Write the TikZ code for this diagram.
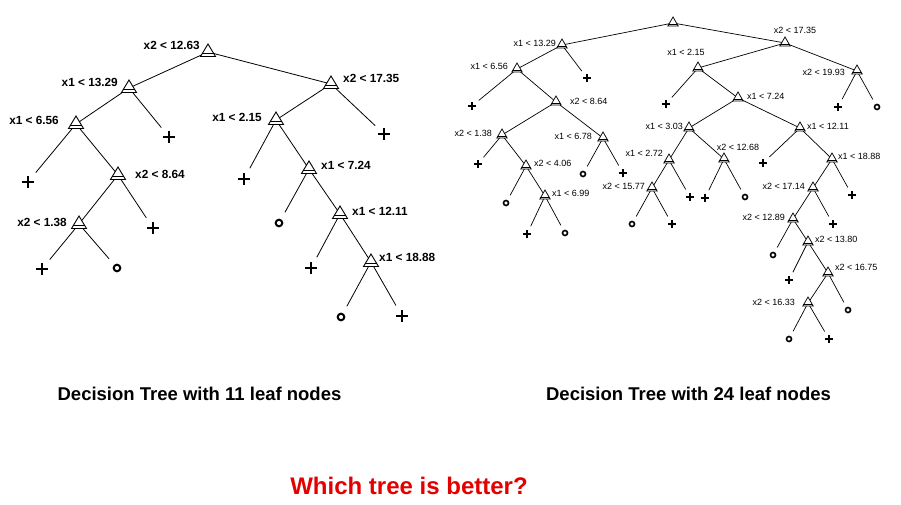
\documentclass[tikz,border=0pt]{standalone}
\usepackage{fontspec}
\setmainfont{Liberation Sans}
\begin{document}
\begin{tikzpicture}[x=1pt,y=-1pt,
  edgeL/.style={line width=0.8pt},
  edgeS/.style={line width=0.7pt},
  leafL/.style={circle,inner sep=0pt,minimum size=24pt},
  leafS/.style={circle,inner sep=0pt,minimum size=17pt},
  plusL/.style={leafL,path picture={\draw[line width=2.5pt]
     ([xshift=-5.8pt]path picture bounding box.center) -- ([xshift=5.8pt]path picture bounding box.center)
     ([yshift=-5.8pt]path picture bounding box.center) -- ([yshift=5.8pt]path picture bounding box.center);}},
  circL/.style={leafL,path picture={\draw[line width=2pt] (path picture bounding box.center) circle[radius=3.3pt];}},
  plusS/.style={leafS,path picture={\draw[line width=1.9pt]
     ([xshift=-4.1pt]path picture bounding box.center) -- ([xshift=4.1pt]path picture bounding box.center)
     ([yshift=-4.1pt]path picture bounding box.center) -- ([yshift=4.1pt]path picture bounding box.center);}},
  circS/.style={leafS,path picture={\draw[line width=1.6pt] (path picture bounding box.center) circle[radius=2.5pt];}},
  lblL/.style={font=\bfseries\fontsize{11.8}{13}\selectfont,inner sep=0pt},
  lblS/.style={font=\fontsize{9}{10}\selectfont,inner sep=0pt},
  caption/.style={font=\bfseries\fontsize{18.5}{20}\selectfont,inner sep=0pt},
  question/.style={font=\bfseries\fontsize{24}{26}\selectfont,inner sep=0pt,text=red!90!black},
  triL/.pic={\draw[line width=0.9pt,fill=white] (-7.5,4.5) -- (0,-8) -- (7.5,4.5) -- cycle;
             \draw[line width=0.9pt] (-5.7,1.5) -- (5.7,1.5);},
  triS/.pic={\draw[line width=0.75pt,fill=white] (-5.2,3) -- (0,-6) -- (5.2,3) -- cycle;
             \draw[line width=0.75pt] (-4,1) -- (4,1);}
]
\fill[white] (0,0) rectangle (901,505);
\useasboundingbox (0,0) rectangle (901,505);

% ---------------- left tree ----------------
\coordinate (LA) at (208,52);
\coordinate (LB) at (129,88);
\coordinate (LC) at (331,84);
\coordinate (LD) at (76,124);
\coordinate (LE) at (118,175);
\coordinate (LF) at (79,224);
\coordinate (LG) at (276,120);
\coordinate (LH) at (309,169);
\coordinate (LI) at (340,214);
\coordinate (LJ) at (371,262);

\node[plusL] (l1) at (169,137) {};
\node[plusL] (l2) at (28,182) {};
\node[plusL] (l3) at (153,228) {};
\node[plusL] (l4) at (42,269) {};
\node[circL] (l5) at (117,268) {};
\node[plusL] (l6) at (384,134) {};
\node[plusL] (l7) at (244,179) {};
\node[circL] (l8) at (279,223) {};
\node[plusL] (l9) at (311,268) {};
\node[circL] (l10) at (341,317) {};
\node[plusL] (l11) at (402,316) {};

\draw[edgeL] (LA) -- (LB);
\draw[edgeL] (LA) -- (LC);
\draw[edgeL] (LB) -- (LD);
\draw[edgeL] (LB) -- (l1);
\draw[edgeL] (LD) -- (l2);
\draw[edgeL] (LD) -- (LE);
\draw[edgeL] (LE) -- (LF);
\draw[edgeL] (LE) -- (l3);
\draw[edgeL] (LF) -- (l4);
\draw[edgeL] (LF) -- (l5);
\draw[edgeL] (LC) -- (LG);
\draw[edgeL] (LC) -- (l6);
\draw[edgeL] (LG) -- (l7);
\draw[edgeL] (LG) -- (LH);
\draw[edgeL] (LH) -- (l8);
\draw[edgeL] (LH) -- (LI);
\draw[edgeL] (LI) -- (l9);
\draw[edgeL] (LI) -- (LJ);
\draw[edgeL] (LJ) -- (l10);
\draw[edgeL] (LJ) -- (l11);

\foreach \n in {LA,LB,LC,LD,LE,LF,LG,LH,LI,LJ} \pic at (\n) {triL};

\node[lblL,anchor=east] (tLA) at (200,45) {x2 < 12.63};
\node[lblL,anchor=east] (tLB) at (118,82) {x1 < 13.29};
\node[lblL,anchor=west] (tLC) at (343,78) {x2 < 17.35};
\node[lblL,anchor=east] (tLD) at (59,120) {x1 < 6.56};
\node[lblL,anchor=west] (tLE) at (135,174) {x2 < 8.64};
\node[lblL,anchor=east] (tLF) at (67,222) {x2 < 1.38};
\node[lblL,anchor=east] (tLG) at (262,117) {x1 < 2.15};
\node[lblL,anchor=west] (tLH) at (321,165) {x1 < 7.24};
\node[lblL,anchor=west] (tLI) at (352,211) {x1 < 12.11};
\node[lblL,anchor=west] (tLJ) at (379,257) {x1 < 18.88};

% ---------------- right tree ----------------
\coordinate (Ra) at (673,23);
\coordinate (Rb) at (562,45);
\coordinate (Rc) at (785,43);
\coordinate (Rd) at (517,69);
\coordinate (Re) at (556,102);
\coordinate (Rf) at (502,135);
\coordinate (Rg) at (603,138);
\coordinate (Rh) at (526,166);
\coordinate (Ri) at (545,196);
\coordinate (Rj) at (698,68);
\coordinate (Rk) at (857,71);
\coordinate (Rl) at (738,98);
\coordinate (Rm) at (689,128);
\coordinate (Rn) at (800,128);
\coordinate (Ro) at (669,160);
\coordinate (Rp) at (724,159);
\coordinate (Rq) at (652,188);
\coordinate (Rr) at (832,159);
\coordinate (Rs) at (813,188);
\coordinate (Rt) at (793,219);
\coordinate (Ru) at (808,242);
\coordinate (Rv) at (828,273);
\coordinate (Rw) at (808,303);

\node[plusS] (r1) at (587,78) {};
\node[plusS] (r2) at (472,106) {};
\node[plusS] (r3) at (478,164) {};
\node[circS] (r4) at (506,203) {};
\node[plusS] (r5) at (527,234) {};
\node[circS] (r6) at (565,233) {};
\node[circS] (r7) at (583,174) {};
\node[plusS] (r8) at (623,173) {};
\node[plusS] (r9) at (838,107) {};
\node[circS] (r10) at (877,107) {};
\node[plusS] (r11) at (666,104) {};
\node[plusS] (r12) at (690,197) {};
\node[circS] (r13) at (632,224) {};
\node[plusS] (r14) at (672,224) {};
\node[plusS] (r15) at (705,198) {};
\node[circS] (r16) at (745,197) {};
\node[plusS] (r17) at (763,163) {};
\node[plusS] (r18) at (852,195) {};
\node[plusS] (r19) at (833,224) {};
\node[circS] (r20) at (773,255) {};
\node[plusS] (r21) at (789,280) {};
\node[circS] (r22) at (848,310) {};
\node[circS] (r23) at (789,339) {};
\node[plusS] (r24) at (829,339) {};

\draw[edgeS] (Ra) -- (Rb);
\draw[edgeS] (Ra) -- (Rc);
\draw[edgeS] (Rb) -- (Rd);
\draw[edgeS] (Rb) -- (r1);
\draw[edgeS] (Rd) -- (r2);
\draw[edgeS] (Rd) -- (Re);
\draw[edgeS] (Re) -- (Rf);
\draw[edgeS] (Re) -- (Rg);
\draw[edgeS] (Rf) -- (r3);
\draw[edgeS] (Rf) -- (Rh);
\draw[edgeS] (Rh) -- (r4);
\draw[edgeS] (Rh) -- (Ri);
\draw[edgeS] (Ri) -- (r5);
\draw[edgeS] (Ri) -- (r6);
\draw[edgeS] (Rg) -- (r7);
\draw[edgeS] (Rg) -- (r8);
\draw[edgeS] (Rc) -- (Rj);
\draw[edgeS] (Rc) -- (Rk);
\draw[edgeS] (Rk) -- (r9);
\draw[edgeS] (Rk) -- (r10);
\draw[edgeS] (Rj) -- (r11);
\draw[edgeS] (Rj) -- (Rl);
\draw[edgeS] (Rl) -- (Rm);
\draw[edgeS] (Rl) -- (Rn);
\draw[edgeS] (Rm) -- (Ro);
\draw[edgeS] (Rm) -- (Rp);
\draw[edgeS] (Ro) -- (Rq);
\draw[edgeS] (Ro) -- (r12);
\draw[edgeS] (Rq) -- (r13);
\draw[edgeS] (Rq) -- (r14);
\draw[edgeS] (Rp) -- (r15);
\draw[edgeS] (Rp) -- (r16);
\draw[edgeS] (Rn) -- (r17);
\draw[edgeS] (Rn) -- (Rr);
\draw[edgeS] (Rr) -- (Rs);
\draw[edgeS] (Rr) -- (r18);
\draw[edgeS] (Rs) -- (Rt);
\draw[edgeS] (Rs) -- (r19);
\draw[edgeS] (Rt) -- (r20);
\draw[edgeS] (Rt) -- (Ru);
\draw[edgeS] (Ru) -- (r21);
\draw[edgeS] (Ru) -- (Rv);
\draw[edgeS] (Rv) -- (Rw);
\draw[edgeS] (Rv) -- (r22);
\draw[edgeS] (Rw) -- (r23);
\draw[edgeS] (Rw) -- (r24);

\foreach \n in {Ra,Rb,Rc,Rd,Re,Rf,Rg,Rh,Ri,Rj,Rk,Rl,Rm,Rn,Ro,Rp,Rq,Rr,Rs,Rt,Ru,Rv,Rw} \pic at (\n) {triS};

\node[lblS,anchor=east] (tRb) at (556,43) {x1 < 13.29};
\node[lblS] (tRc) at (795,30) {x2 < 17.35};
\node[lblS,anchor=east] (tRd) at (508,66) {x1 < 6.56};
\node[lblS,anchor=west] (tRe) at (570,101) {x2 < 8.64};
\node[lblS,anchor=east] (tRf) at (492,133) {x2 < 1.38};
\node[lblS,anchor=east] (tRg) at (592,136) {x1 < 6.78};
\node[lblS,anchor=west] (tRh) at (534,163) {x2 < 4.06};
\node[lblS,anchor=west] (tRi) at (552,193) {x1 < 6.99};
\node[lblS] (tRj) at (686,52) {x1 < 2.15};
\node[lblS,anchor=east] (tRk) at (845,72) {x2 < 19.93};
\node[lblS,anchor=west] (tRl) at (747,96) {x1 < 7.24};
\node[lblS,anchor=east] (tRm) at (683,126) {x1 < 3.03};
\node[lblS,anchor=west] (tRn) at (807,126) {x1 < 12.11};
\node[lblS,anchor=east] (tRo) at (663,153) {x1 < 2.72};
\node[lblS] (tRp) at (738,147) {x2 < 12.68};
\node[lblS,anchor=east] (tRq) at (645,186) {x2 < 15.77};
\node[lblS,anchor=west] (tRr) at (838,156) {x1 < 18.88};
\node[lblS,anchor=east] (tRs) at (805,186) {x2 < 17.14};
\node[lblS,anchor=east] (tRt) at (785,217) {x2 < 12.89};
\node[lblS,anchor=west] (tRu) at (815,239) {x2 < 13.80};
\node[lblS,anchor=west] (tRv) at (835,267) {x2 < 16.75};
\node[lblS,anchor=east] (tRw) at (795,302) {x2 < 16.33};

% ---------------- captions ----------------
\node[caption] (capL) at (199.5,394) {Decision Tree with 11 leaf nodes};
\node[caption] (capR) at (688.5,394) {Decision Tree with 24 leaf nodes};
\node[question] (q) at (409,486) {Which tree is better?};
\end{tikzpicture}
\end{document}
